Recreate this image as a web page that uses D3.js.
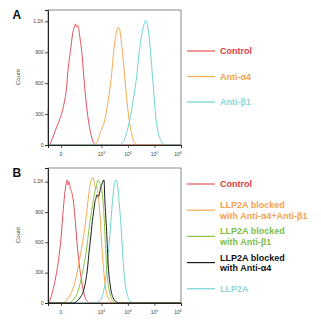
<!DOCTYPE html>
<html>
<head>
<meta charset="utf-8">
<script src="https://cdn.jsdelivr.net/npm/d3@7"></script>
<style>
  body { margin: 0; background: #fff; }
  svg { font-family: "Liberation Sans", Arial, sans-serif; }
</style>
</head>
<body>
<svg id="chart" width="321" height="324"></svg>
<script>
// histograms: [channel (biexponential display, decades), count]
var controlA = [[-0.49,0],[-0.44,0],[-0.35,48],[-0.23,129],[-0.06,242],[0.09,371],[0.21,560],[0.27,740],[0.36,919],[0.44,1081],[0.52,1161],[0.55,1175],[0.59,1145],[0.63,1160],[0.67,1129],[0.71,1048],[0.79,887],[0.86,661],[0.94,435],[1.03,242],[1.12,113],[1.21,32],[1.34,0],[4.52,0]];
var antiA4A = [[-0.49,340],[-0.47,0],[1.21,0],[1.34,16],[1.47,113],[1.65,242],[1.78,435],[1.91,694],[1.99,919],[2.09,1097],[2.15,1145],[2.22,1113],[2.28,984],[2.37,758],[2.47,468],[2.57,242],[2.66,113],[2.78,16],[2.89,0],[4.52,0]];
var antiB1A = [[-0.49,0],[2.15,0],[2.34,32],[2.47,113],[2.59,242],[2.72,435],[2.85,661],[2.94,887],[3.03,1048],[3.12,1161],[3.20,1210],[3.27,1145],[3.35,984],[3.42,758],[3.50,500],[3.57,274],[3.67,113],[3.79,32],[3.91,0],[4.52,0]];

var controlB = [[-0.49,0],[-0.45,10],[-0.35,82],[-0.23,214],[-0.10,411],[0,641],[0.09,937],[0.15,1101],[0.20,1184],[0.24,1217],[0.27,1167],[0.31,1200],[0.35,1134],[0.40,1101],[0.45,1036],[0.53,838],[0.60,608],[0.69,378],[0.78,214],[0.88,82],[0.98,16],[1.09,0],[4.52,0]];
var llp2aB = [[-0.49,0],[1.28,0],[1.43,16],[1.53,49],[1.65,181],[1.74,378],[1.82,608],[1.88,806],[1.94,1003],[2.00,1151],[2.07,1217],[2.13,1167],[2.19,1003],[2.26,773],[2.32,510],[2.38,279],[2.47,115],[2.57,33],[2.72,0],[4.52,0]];
var blockBothB = [[-0.49,0],[0.05,0],[0.15,10],[0.27,49],[0.46,148],[0.59,279],[0.71,444],[0.84,641],[0.93,806],[1.00,970],[1.06,1101],[1.13,1217],[1.19,1240],[1.25,1200],[1.30,1134],[1.35,1150],[1.40,1069],[1.47,871],[1.53,600],[1.60,350],[1.68,150],[1.78,50],[1.91,10],[2.03,0],[4.52,0]];
var blockB1B = [[-0.49,0],[0.30,0],[0.40,16],[0.59,82],[0.71,181],[0.84,345],[0.97,542],[1.06,740],[1.15,904],[1.23,1036],[1.28,1101],[1.34,1167],[1.40,1217],[1.45,1190],[1.52,1150],[1.57,1050],[1.62,871],[1.68,542],[1.74,279],[1.84,99],[1.97,16],[2.07,0],[4.52,0]];
var blockA4B = [[-0.49,0],[0.45,0],[0.59,16],[0.71,49],[0.84,115],[0.93,214],[1.00,345],[1.06,510],[1.13,674],[1.18,806],[1.23,904],[1.28,1003],[1.32,1036],[1.35,1069],[1.40,1052],[1.44,1069],[1.49,1134],[1.55,1184],[1.62,1217],[1.65,1036],[1.72,707],[1.78,378],[1.87,148],[1.97,49],[2.09,10],[2.22,0],[4.52,0]];

var yTicks = [0, 300, 600, 900, 1200];
var yTickLabels = ["0", "300", "600", "900", "1.2K"];
var xTicks = [0, 1e3, 1e4, 1e5, 1e6];
var xTickExp = [null, "3", "4", "5", "6"];

var legendA = [["Control"], ["Anti-\u03b14"], ["Anti-\u03b21"]];
var legendB = [["Control"], ["LLP2A blocked", "with Anti-\u03b14+Anti-\u03b21"], ["LLP2A blocked", "with Anti-\u03b21"], ["LLP2A blocked", "with Anti-\u03b14"], ["LLP2A"]];

var col = {
  red:    {line: "#e4545c", text: "#e03a42"},
  orange: {line: "#f4aa52", text: "#f2a24e"},
  green:  {line: "#8cc641", text: "#7cc049"},
  black:  {line: "#1a1a1a", text: "#111111"},
  cyan:   {line: "#6fd4d0", text: "#8bd9d5"}
};

function chan(v) { return Math.asinh(v / 60) / Math.LN10; }

var svg = d3.select("#chart");
var x = d3.scaleLinear().domain([-0.49, 4.523]).range([48, 181]);

// minor x ticks: 1..9 per decade, plus the linear part round zero
var xMinor = [];
[10, 100, 1000, 10000, 100000].forEach(function(d) {
  for (var k = 1; k <= 9; k++) xMinor.push(k * d);
});
for (var k = 1; k <= 8; k++) xMinor.push(-k * 10);
var yMinor = d3.range(100, 1301, 100);

function drawPanel(conf) {
  var y = d3.scaleLinear().domain([0, conf.ymax]).range([conf.bottom, conf.top]);
  var g = svg.append("g");

  var line = d3.line()
    .x(function(d) { return x(d[0]); })
    .y(function(d) { return y(d[1]); })
    .curve(d3.curveMonotoneX);

  g.selectAll("path.hist")
    .data(conf.series)
    .enter()
    .append("path")
    .attr("class", "hist")
    .attr("d", function(s) { return line(s.data); })
    .attr("fill", "none")
    .attr("stroke", function(s) { return s.color.line; })
    .attr("stroke-width", 1);

  g.append("rect")
    .attr("x", 48).attr("y", conf.top)
    .attr("width", 133).attr("height", conf.bottom - conf.top)
    .attr("fill", "none").attr("stroke", "#555").attr("stroke-width", 0.7);

  // y axis
  var yAx = g.append("g").attr("transform", "translate(48,0)");
  yAx.call(d3.axisLeft(y).tickValues(yMinor).tickSize(1.5).tickFormat(""));
  yAx.call(d3.axisLeft(y).tickValues(yTicks).tickSize(3).tickFormat(""));
  yAx.selectAll("line").attr("stroke", "#222").attr("stroke-width", 0.8);
  yAx.select(".domain").attr("stroke", "#222").attr("stroke-width", 1);
  g.selectAll("text.ylab")
    .data(yTicks)
    .enter()
    .append("text")
    .attr("class", "ylab")
    .attr("x", 43.5)
    .attr("y", function(d) { return y(d) + 1.8; })
    .attr("text-anchor", "end")
    .attr("font-size", 5)
    .attr("fill", "#444")
    .text(function(d, i) { return yTickLabels[i]; });

  // x axis
  var xAx = g.append("g").attr("transform", "translate(0," + conf.bottom + ")");
  xAx.call(d3.axisBottom(x).tickValues(xMinor.map(chan)).tickSize(1.5).tickFormat(""));
  xAx.call(d3.axisBottom(x).tickValues(xTicks.map(chan)).tickSize(3).tickFormat(""));
  xAx.selectAll("line").attr("stroke", "#222").attr("stroke-width", 0.7);
  xAx.select(".domain").attr("stroke", "#222").attr("stroke-width", 1);

  var xl = g.selectAll("text.xlab")
    .data(xTicks)
    .enter()
    .append("text")
    .attr("class", "xlab")
    .attr("x", function(d) { return Math.min(x(chan(d)), 178); })
    .attr("y", conf.bottom + 11)
    .attr("text-anchor", "middle")
    .attr("font-size", 5)
    .attr("fill", "#444");
  xl.each(function(d, i) {
    var t = d3.select(this);
    if (xTickExp[i] === null) { t.text("0"); return; }
    t.append("tspan").text("10");
    t.append("tspan").attr("font-size", 3.5).attr("dy", -2).text(xTickExp[i]);
  });

  g.append("text")
    .attr("transform", "translate(20," + conf.countY + ") rotate(-90)")
    .attr("text-anchor", "middle")
    .attr("font-size", 6)
    .attr("fill", "#444")
    .text("Count");

  g.append("text")
    .attr("x", 12.5).attr("y", conf.top + 8.5)
    .attr("font-size", 12).attr("font-weight", "bold")
    .attr("fill", "#111")
    .text(conf.label);

  // legend
  var leg = g.selectAll("g.leg")
    .data(conf.legend)
    .enter()
    .append("g")
    .attr("class", "leg")
    .attr("transform", function(d, i) {
      return "translate(0," + (conf.legY + i * conf.legStep) + ")";
    });
  leg.append("line")
    .attr("x1", 187).attr("x2", 215)
    .attr("y1", 0).attr("y2", 0)
    .attr("stroke", function(d, i) { return conf.legColors[i].line; })
    .attr("stroke-width", 1.2);
  leg.each(function(lines, i) {
    var n = lines.length;
    d3.select(this).selectAll("text")
      .data(lines)
      .enter()
      .append("text")
      .attr("x", 220)
      .attr("y", function(d, j) { return (j - (n - 1) / 2) * 10.6 + 3.2; })
      .attr("font-size", 9)
      .attr("font-weight", "bold")
      .attr("fill", conf.legColors[i].text)
      .text(function(d) { return d; });
  });
}

drawPanel({
  label: "A", top: 10, bottom: 145, ymax: 1310, countY: 77,
  series: [
    {data: controlA, color: col.red},
    {data: antiA4A, color: col.orange},
    {data: antiB1A, color: col.cyan}
  ],
  legend: legendA, legColors: [col.red, col.orange, col.cyan],
  legY: 51, legStep: 25.5
});

drawPanel({
  label: "B", top: 168, bottom: 303, ymax: 1335, countY: 235,
  series: [
    {data: controlB, color: col.red},
    {data: llp2aB, color: col.cyan},
    {data: blockBothB, color: col.orange},
    {data: blockB1B, color: col.green},
    {data: blockA4B, color: col.black}
  ],
  legend: legendB, legColors: [col.red, col.orange, col.green, col.black, col.cyan],
  legY: 184, legStep: 26.2
});
</script>
</body>
</html>
